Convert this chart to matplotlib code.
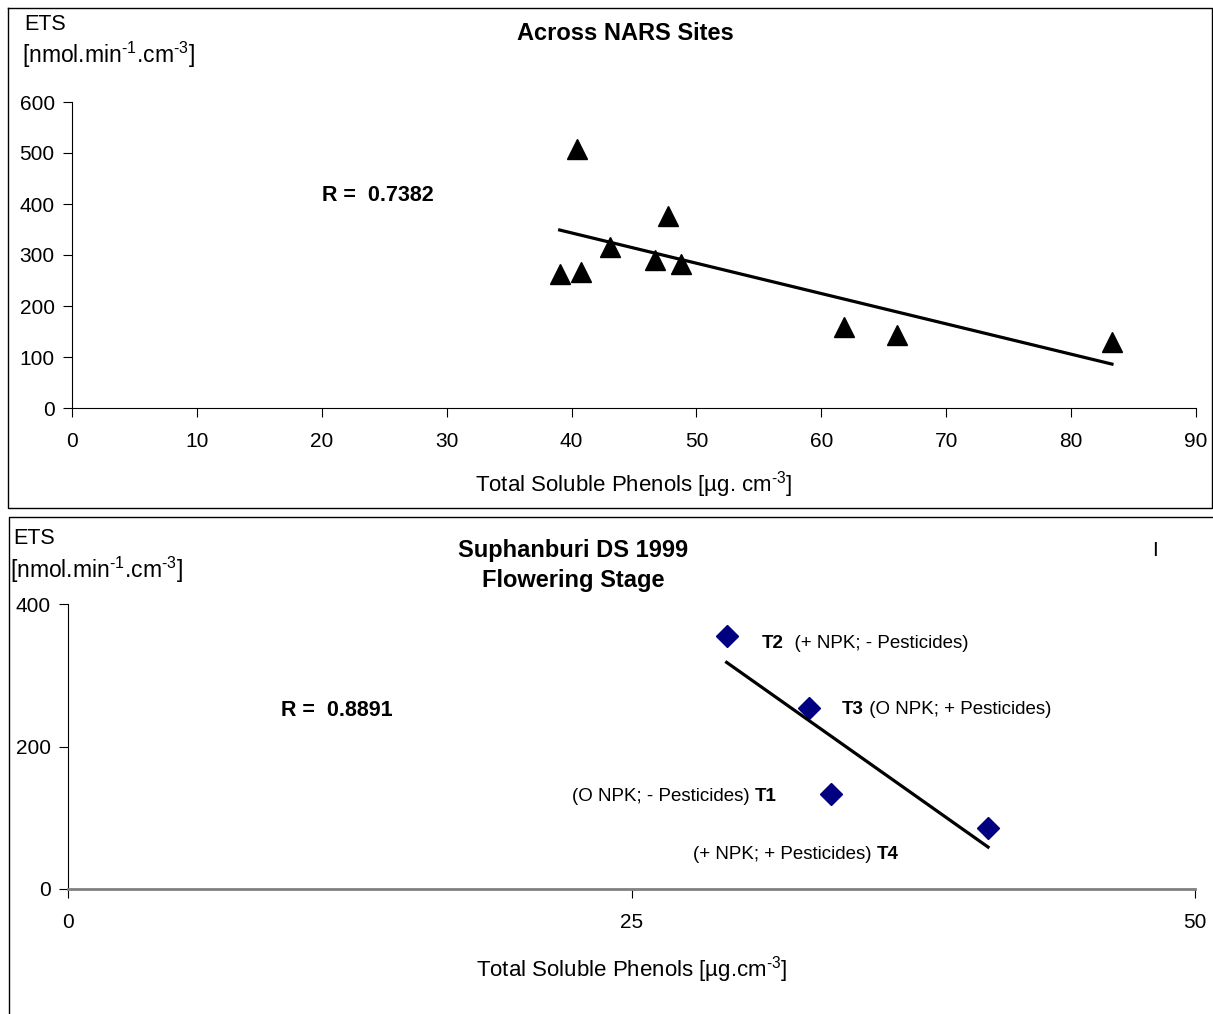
import numpy as np
import matplotlib
matplotlib.use('Agg')
import matplotlib.pyplot as plt
from matplotlib.lines import Line2D

plt.rcParams['font.family'] = ['Liberation Sans', 'DejaVu Sans']
plt.rcParams['mathtext.fontset'] = 'custom'
plt.rcParams['mathtext.rm'] = 'Liberation Sans'
plt.rcParams['mathtext.it'] = 'Liberation Sans:italic'
plt.rcParams['mathtext.bf'] = 'Liberation Sans:bold'

# Panel 1: across NARS sites
nars_phenols = [39.05, 40.73, 40.41, 43.05, 46.70, 48.78, 47.72, 61.78, 66.05, 83.27]
nars_ets = [262.7, 267.3, 507.3, 316.3, 290.2, 282.4, 377.0, 159.4, 143.1, 128.8]
nars_xticks = [0, 10, 20, 30, 40, 50, 60, 70, 80, 90]
nars_yticks = [0, 100, 200, 300, 400, 500, 600]

# Panel 2: Suphanburi DS 1999, treatments
treat_names = ['T2', 'T3', 'T1', 'T4']
treat_desc = ['  (+ NPK; - Pesticides)', ' (O NPK; + Pesticides)',
              '(O NPK; - Pesticides) ', '(+ NPK; + Pesticides) ']
sup_phenols = [29.22, 32.88, 33.84, 40.82]
sup_ets = [355.5, 253.6, 132.9, 86.0]
sup_xticks = [0, 25, 50]
sup_yticks = [0, 200, 400]

W, H = 1213, 1014
fig = plt.figure(figsize=(W / 100, H / 100), dpi=100)


def fx(px):
    return px / W


def fy(py):
    return 1 - py / H


unit = '[nmol.min$^{\\text{-1}}$.cm$^{\\text{-3}}$]'

# panel frames
fig.add_artist(Line2D([fx(8), fx(1212), fx(1212), fx(8), fx(8)],
                      [fy(8), fy(8), fy(508), fy(508), fy(8)], color='black', lw=1))
fig.add_artist(Line2D([fx(9), fx(9), fx(1213)],
                      [fy(1014), fy(517), fy(517)], color='black', lw=1))

# ---- top panel
ax1 = fig.add_axes([fx(72), fy(408), fx(1196) - fx(72), fy(102) - fy(408)])
ax1.plot(nars_phenols, nars_ets, linestyle='none', marker='^', ms=15,
         color='black', mec='black', clip_on=False)
k, b = np.polyfit(nars_phenols, nars_ets, 1)
xs = np.array([min(nars_phenols), max(nars_phenols)])
ax1.plot(xs, k * xs + b, color='black', lw=2.3)
ax1.set_xlim(0, 90)
ax1.set_ylim(0, 600)
ax1.set_xticks(nars_xticks)
ax1.set_yticks(nars_yticks)
ax1.set_xlabel('Total Soluble Phenols [µg. cm$^{\\text{-3}}$]', fontsize=16, labelpad=13)
ax1.text(0.222, 0.696, 'R =  0.7382', transform=ax1.transAxes, fontsize=15.5,
         fontweight='bold', ha='left', va='center')

# ---- bottom panel
ax2 = fig.add_axes([fx(68), fy(889), fx(1195) - fx(68), fy(604) - fy(889)])
ax2.plot(sup_phenols, sup_ets, linestyle='none', marker='D', ms=11.5,
         color='#000080', clip_on=False)
k2, b2 = np.polyfit(sup_phenols, sup_ets, 1)
xs2 = np.array([min(sup_phenols), max(sup_phenols)])
ax2.plot(xs2, k2 * xs2 + b2, color='black', lw=2.3)
ax2.set_xlim(0, 50)
ax2.set_ylim(0, 400)
ax2.set_xticks(sup_xticks)
ax2.set_yticks(sup_yticks)
ax2.set_xlabel('Total Soluble Phenols [µg.cm$^{\\text{-3}}$]', fontsize=16, labelpad=16)
ax2.spines['bottom'].set_color('#808080')
ax2.spines['bottom'].set_linewidth(2)
ax2.text(0.189, 0.625, 'R =  0.8891', transform=ax2.transAxes, fontsize=15.5,
         fontweight='bold', ha='left', va='center')

# treatment labels
lab_pos = [(30.79, 345, 'left'), (34.33, 252, 'left'), (31.43, 130, 'right'), (36.87, 48, 'right')]
for name, desc, (lx, ly, side) in zip(treat_names, treat_desc, lab_pos):
    if side == 'left':
        t = ax2.text(lx, ly, name, fontsize=13.5, fontweight='bold', va='center', ha='left')
        ax2.annotate(desc, xycoords=t, xy=(1, 0.5), va='center', ha='left', fontsize=13.5)
    else:
        t = ax2.text(lx, ly, name, fontsize=13.5, fontweight='bold', va='center', ha='right')
        ax2.annotate(desc, xycoords=t, xy=(0, 0.5), va='center', ha='right', fontsize=13.5)

for ax in (ax1, ax2):
    ax.spines['top'].set_visible(False)
    ax.spines['right'].set_visible(False)
    ax.tick_params(direction='out', length=6.5, width=0.8, labelsize=15)
    ax.tick_params(axis='x', pad=11)
    ax.tick_params(axis='y', pad=6)

# figure texts
fig.text(fx(24), fy(24), 'ETS', fontsize=15.5, va='center', ha='left')
fig.text(fx(22), fy(55), unit, fontsize=16.5, va='center', ha='left')
fig.text(fx(625), fy(34), 'Across NARS Sites', fontsize=17, fontweight='bold',
         va='center', ha='center')
fig.text(fx(13), fy(539), 'ETS', fontsize=15.5, va='center', ha='left')
fig.text(fx(10), fy(570), unit, fontsize=16.5, va='center', ha='left')
fig.text(fx(573), fy(550), 'Suphanburi DS 1999', fontsize=17, fontweight='bold',
         va='center', ha='center')
fig.text(fx(573), fy(581), 'Flowering Stage', fontsize=17, fontweight='bold',
         va='center', ha='center')
fig.text(fx(1155), fy(550), 'I', fontsize=15, va='center', ha='center')

fig.savefig('out.png', dpi=100)
